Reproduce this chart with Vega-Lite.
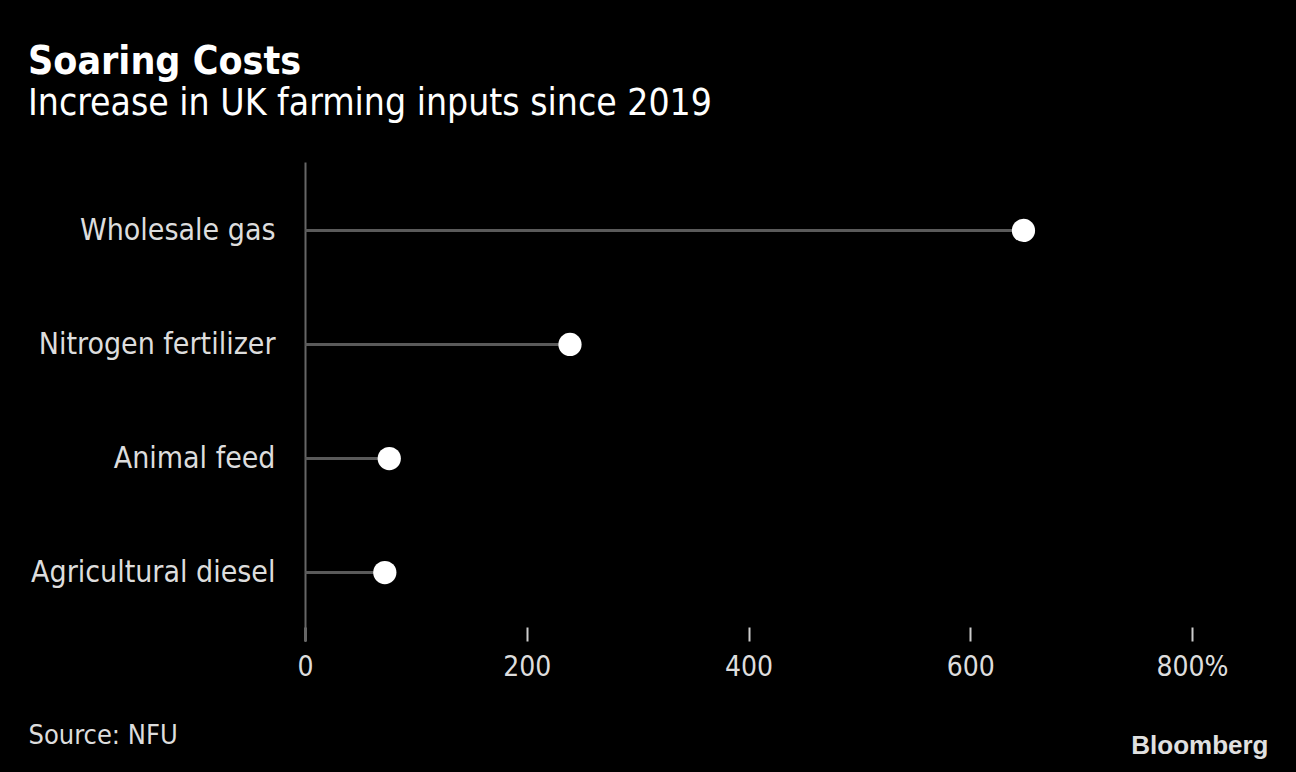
{
  "$schema": "https://vega.github.io/schema/vega-lite/v6.json",
  "width": 887,
  "height": 479,
  "autosize": {"type": "none"},
  "padding": {"left": 305, "top": 162, "right": 104, "bottom": 131},
  "background": "#000000",
  "title": {
    "text": "Soaring Costs",
    "subtitle": "Increase in UK farming inputs since 2019",
    "anchor": "start",
    "frame": "group",
    "dx": -277,
    "offset": 40,
    "font": "DejaVu Sans Condensed",
    "fontSize": 39,
    "fontWeight": "bold",
    "color": "#ffffff",
    "subtitleFont": "DejaVu Sans Condensed",
    "subtitleFontSize": 37,
    "subtitleColor": "#ffffff",
    "subtitlePadding": 4
  },
  "data": {
    "values": [
      {"input": "Wholesale gas", "value": 648},
      {"input": "Nitrogen fertilizer", "value": 239},
      {"input": "Animal feed", "value": 76},
      {"input": "Agricultural diesel", "value": 72}
    ]
  },
  "config": {
    "view": {"stroke": null},
    "font": "DejaVu Sans Condensed"
  },
  "encoding": {
    "y": {
      "field": "input",
      "type": "nominal",
      "sort": null,
      "scale": {"type": "point", "padding": 0.6},
      "axis": {
        "title": "Bloomberg",
        "titleAngle": 0,
        "titleX": 963,
        "titleY": 583,
        "titleAlign": "right",
        "titleBaseline": "middle",
        "titleFont": "Liberation Sans",
        "titleFontWeight": "bold",
        "titleFontSize": 26,
        "titleColor": "#e0e0e0",
        "ticks": false,
        "domain": true,
        "domainColor": "#666666",
        "domainWidth": 2,
        "labelPadding": 30,
        "labelLimit": 400,
        "labelFontSize": 30,
        "labelColor": "#dddddd",
        "labelFont": "DejaVu Sans Condensed"
      }
    },
    "x": {
      "field": "value",
      "type": "quantitative",
      "scale": {"domain": [0, 800], "nice": false},
      "axis": {
        "values": [0, 200, 400, 600, 800],
        "labelExpr": "datum.value == 800 ? '800%' : datum.label",
        "grid": false,
        "domain": false,
        "tickSize": -14,
        "tickColor": "#cccccc",
        "tickWidth": 2,
        "labelPadding": 26,
        "labelFontSize": 28,
        "labelColor": "#dddddd",
        "labelFont": "DejaVu Sans Condensed",
        "labelFlush": false,
        "title": "Source: NFU",
        "titleX": -277,
        "titleY": 94,
        "titleAlign": "left",
        "titleBaseline": "middle",
        "titleFontSize": 27,
        "titleFontWeight": "normal",
        "titleColor": "#dddddd",
        "titleFont": "DejaVu Sans Condensed"
      }
    }
  },
  "layer": [
    {
      "mark": {"type": "rule", "color": "#5a5a5a", "strokeWidth": 3},
      "encoding": {
        "x2": {"datum": 0}
      }
    },
    {
      "mark": {"type": "circle", "color": "#ffffff", "opacity": 1, "size": 540}
    }
  ]
}
